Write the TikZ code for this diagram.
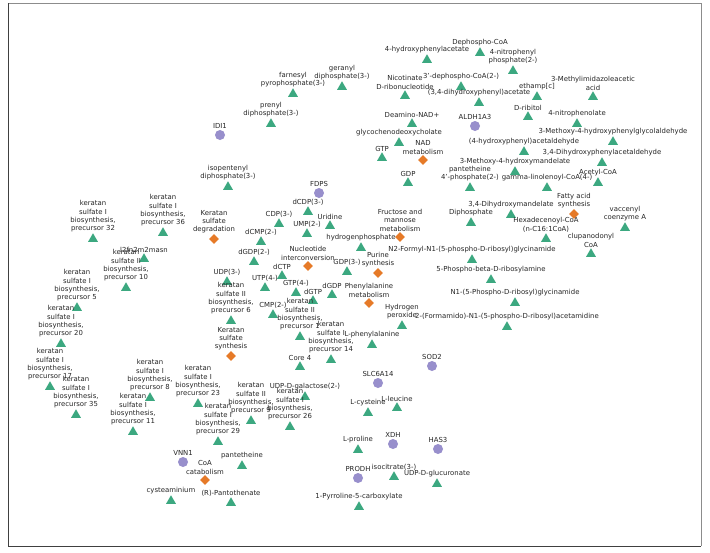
\documentclass[tikz,border=0pt]{standalone}
\usepackage{fontspec}
\setmainfont{DejaVu Sans}
\usetikzlibrary{shapes.geometric}
\pgfdeclarelayer{bg}
\pgfsetlayers{bg,main}
\definecolor{tgreen}{RGB}{60,168,128}
\definecolor{epurple}{RGB}{152,143,204}
\definecolor{porange}{RGB}{230,122,40}
\newcommand\mtri[4]{\node[tri,label={[lab,label distance=0pt]above:{#4}}] (#1) at (#2,#3) {};}
\newcommand\menz[4]{\node[enz,label={[lab,label distance=0.5pt]above:{#4}}] (#1) at (#2,#3) {};}
\newcommand\mpw[4]{\node[pw,label={[lab,label distance=0pt]above:{#4}}] (#1) at (#2,#3) {};}
\begin{document}
\begin{tikzpicture}[x=1pt,y=-1pt,
  tri/.style={regular polygon, regular polygon sides=3, fill=tgreen, minimum size=11.5pt, inner sep=0pt},
  enz/.style={circle, fill=epurple, minimum size=10pt, inner sep=0pt},
  pw/.style={diamond, fill=porange, minimum width=10pt, minimum height=10pt, inner sep=0pt},
  lab/.style={font=\fontsize{6.9}{8.3}\selectfont, align=center, inner sep=0.5pt, text=black!85},
  edge/.style={draw=black!17, line width=0.35pt}]
\useasboundingbox (0,0) rectangle (710,552);
\fill[white] (0,0) rectangle (710,552);
\draw[black!45, line width=1pt] (8,3) -- (701,3) -- (701,546);
\draw[black!75, line width=1pt] (8,3) -- (8,546) -- (701,546);
% enzymes
\menz{idi1}{220}{135}{IDI1}
\menz{fdps}{319}{193}{FDPS}
\menz{aldh}{475}{126}{ALDH1A3}
\menz{sod2}{432}{366}{SOD2}
\menz{slc}{378}{383}{SLC6A14}
\menz{xdh}{393}{444}{XDH}
\menz{has3}{438}{449}{HAS3}
\menz{prodh}{358}{478}{PRODH}
\menz{vnn1}{183}{462}{VNN1}
% pathways
\mpw{nadm}{423}{160}{NAD\\metabolism}
\mpw{fruc}{400}{237}{Fructose and\\mannose\\metabolism}
\mpw{nuc}{308}{266}{Nucleotide\\interconversion}
\mpw{pur}{378}{273}{Purine\\synthesis}
\mpw{phe}{369}{303}{Phenylalanine\\metabolism}
\mpw{fas}{574}{214}{Fatty acid\\synthesis}
\mpw{kdeg}{214}{239}{Keratan\\sulfate\\degradation}
\mpw{ksyn}{231}{356}{Keratan\\sulfate\\synthesis}
\mpw{coa}{205}{480}{CoA\\catabolism}
% metabolites
\mtri{depcoa}{480}{53}{Dephospho-CoA}
\mtri{hpa}{427}{60}{4-hydroxyphenylacetate}
\mtri{npp}{513}{71}{4-nitrophenyl\\phosphate(2-)}
\mtri{ger}{342}{87}{geranyl\\diphosphate(3-)}
\mtri{far}{293}{94}{farnesyl\\pyrophosphate(3-)}
\mtri{pre}{271}{124}{prenyl\\diphosphate(3-)}
\mtri{nicr}{405}{96}{Nicotinate\\D-ribonucleotide}
\mtri{dpc}{461}{87}{3'-dephospho-CoA(2-)}
\mtri{dhpa}{479}{103}{(3,4-dihydroxyphenyl)acetate}
\mtri{mia}{593}{97}{3-Methylimidazoleacetic\\acid}
\mtri{eth}{537}{97}{ethamp[c]}
\mtri{rib}{528}{117}{D-ribitol}
\mtri{npl}{577}{124}{4-nitrophenolate}
\mtri{mhpg}{613}{142}{3-Methoxy-4-hydroxyphenylglycolaldehyde}
\mtri{hpald}{524}{152}{(4-hydroxyphenyl)acetaldehyde}
\mtri{dopal}{602}{163}{3,4-Dihydroxyphenylacetaldehyde}
\mtri{vma}{515}{172}{3-Methoxy-4-hydroxymandelate}
\mtri{acoa}{598}{183}{Acetyl-CoA}
\mtri{ppan}{470}{188}{pantetheine\\4'-phosphate(2-)}
\mtri{glc}{547}{188}{gamma-linolenoyl-CoA(4-)}
\mtri{dnad}{412}{124}{Deamino-NAD+}
\mtri{gcdc}{399}{143}{glycochenodeoxycholate}
\mtri{gtp}{382}{158}{GTP}
\mtri{gdp}{408}{183}{GDP}
\mtri{ipp}{228}{187}{isopentenyl\\diphosphate(3-)}
\mtri{ppi}{471}{223}{Diphosphate}
\mtri{dhm}{511}{215}{3,4-Dihydroxymandelate}
\mtri{hp}{361}{248}{hydrogenphosphate}
\mtri{n2f}{472}{260}{N2-Formyl-N1-(5-phospho-D-ribosyl)glycinamide}
\mtri{hdc}{546}{239}{Hexadecenoyl-CoA\\(n-C16:1CoA)}
\mtri{vac}{625}{228}{vaccenyl\\coenzyme A}
\mtri{clu}{591}{254}{clupanodonyl\\CoA}
\mtri{pra}{491}{280}{5-Phospho-beta-D-ribosylamine}
\mtri{gar}{515}{303}{N1-(5-Phospho-D-ribosyl)glycinamide}
\mtri{fgam}{507}{327}{2-(Formamido)-N1-(5-phospho-D-ribosyl)acetamidine}
\mtri{dcdp}{308}{212}{dCDP(3-)}
\mtri{uri}{330}{226}{Uridine}
\mtri{cdp}{279}{224}{CDP(3-)}
\mtri{ump}{307}{234}{UMP(2-)}
\mtri{dcmp}{261}{242}{dCMP(2-)}
\mtri{dgdpb}{254}{262}{dGDP(2-)}
\mtri{gdpc}{347}{272}{GDP(3-)}
\mtri{dctp}{282}{276}{dCTP}
\mtri{utp}{265}{288}{UTP(4-)}
\mtri{gtpd}{296}{293}{GTP(4-)}
\mtri{dgtp}{313}{301}{dGTP}
\mtri{dgdp}{332}{295}{dGDP}
\mtri{cmp}{273}{315}{CMP(2-)}
\mtri{kbia}{300}{337}{keratan\\sulfate II\\biosynthesis,\\precursor 1}
\mtri{kaxiv}{331}{360}{keratan\\sulfate I\\biosynthesis,\\precursor 14}
\mtri{lphe}{372}{345}{L-phenylalanine}
\mtri{hper}{402}{326}{Hydrogen\\peroxide}
\mtri{core}{300}{367}{Core 4}
\mtri{udpc}{227}{282}{UDP(3-)}
\mtri{kbvi}{231}{321}{keratan\\sulfate II\\biosynthesis,\\precursor 6}
\mtri{kaxxiii}{198}{404}{keratan\\sulfate I\\biosynthesis,\\precursor 23}
\mtri{kbix}{251}{421}{keratan\\sulfate II\\biosynthesis,\\precursor 9}
\mtri{udpgal}{305}{397}{UDP-D-galactose(2-)}
\mtri{kaxxvi}{290}{427}{keratan\\sulfate I\\biosynthesis,\\precursor 26}
\mtri{kaxxix}{218}{442}{keratan\\sulfate I\\biosynthesis,\\precursor 29}
\mtri{kaxxxii}{93}{239}{keratan\\sulfate I\\biosynthesis,\\precursor 32}
\mtri{kaxxxvi}{163}{233}{keratan\\sulfate I\\biosynthesis,\\precursor 36}
\mtri{lfn}{144}{259}{l2fn2m2masn}
\mtri{kbx}{126}{288}{keratan\\sulfate II\\biosynthesis,\\precursor 10}
\mtri{kav}{77}{308}{keratan\\sulfate I\\biosynthesis,\\precursor 5}
\mtri{kaxx}{61}{344}{keratan\\sulfate I\\biosynthesis,\\precursor 20}
\mtri{kaxvii}{50}{387}{keratan\\sulfate I\\biosynthesis,\\precursor 17}
\mtri{kaxxxv}{76}{415}{keratan\\sulfate I\\biosynthesis,\\precursor 35}
\mtri{kaviii}{150}{398}{keratan\\sulfate I\\biosynthesis,\\precursor 8}
\mtri{kaxi}{133}{432}{keratan\\sulfate I\\biosynthesis,\\precursor 11}
\mtri{cyst}{171}{501}{cysteaminium}
\mtri{pant}{231}{503}{(R)-Pantothenate}
\mtri{ptth}{242}{466}{pantetheine}
\mtri{lleu}{397}{408}{L-leucine}
\mtri{lcys}{368}{413}{L-cysteine}
\mtri{lpro}{358}{450}{L-proline}
\mtri{icit}{394}{477}{isocitrate(3-)}
\mtri{udpglc}{437}{484}{UDP-D-glucuronate}
\mtri{pfc}{359}{507}{1-Pyrroline-5-carboxylate}
\begin{pgfonlayer}{bg}
\foreach \a/\b in {idi1/ipp, idi1/pre, fdps/ger, fdps/far, fdps/pre, fdps/ipp, fdps/ppi,
  aldh/depcoa, aldh/hpa, aldh/npp, aldh/dpc, aldh/dhpa, aldh/mia, aldh/eth, aldh/rib, aldh/npl,
  aldh/mhpg, aldh/hpald, aldh/dopal, aldh/vma, aldh/acoa, aldh/ppan, aldh/glc, aldh/dnad,
  aldh/gcdc, aldh/ppi, aldh/dhm, aldh/nicr, aldh/gtp, aldh/hdc,
  nadm/dnad, nadm/nicr, nadm/ppi, nadm/gtp,
  fruc/gdp, fruc/gtp, fruc/ppi, fruc/hp,
  nuc/dcdp, nuc/uri, nuc/cdp, nuc/ump, nuc/dcmp, nuc/dgdpb, nuc/dctp, nuc/utp, nuc/gtpd,
  nuc/dgtp, nuc/dgdp, nuc/cmp, nuc/gdpc, nuc/hp, nuc/ppi, nuc/udpc, nuc/gtp, nuc/gdp,
  pur/n2f, pur/pra, pur/gar, pur/fgam, pur/hp, pur/ppi, pur/gdpc, pur/gtp,
  phe/lphe, phe/hper, phe/hpa, phe/hpald,
  fas/hdc, fas/vac, fas/clu, fas/glc, fas/acoa,
  ksyn/udpc, ksyn/kbvi, ksyn/kaxxiii, ksyn/kbix, ksyn/udpgal, ksyn/kaxxvi, ksyn/kaxxix,
  ksyn/kaxxxii, ksyn/kaxxxvi, ksyn/lfn, ksyn/kbx, ksyn/kav, ksyn/kaxx, ksyn/kaxvii,
  ksyn/kaxxxv, ksyn/kaviii, ksyn/kaxi, ksyn/kbia, ksyn/kaxiv, ksyn/core, ksyn/cmp,
  kdeg/udpc, coa/ptth, coa/pant, coa/cyst, coa/ppan, vnn1/ptth, vnn1/cyst, vnn1/pant,
  sod2/hper, slc/lleu, slc/lcys, slc/lphe, prodh/lpro, prodh/pfc, xdh/icit, has3/udpglc}
  \draw[edge] (\a.center) -- (\b.center);
\end{pgfonlayer}
\end{tikzpicture}
\end{document}
